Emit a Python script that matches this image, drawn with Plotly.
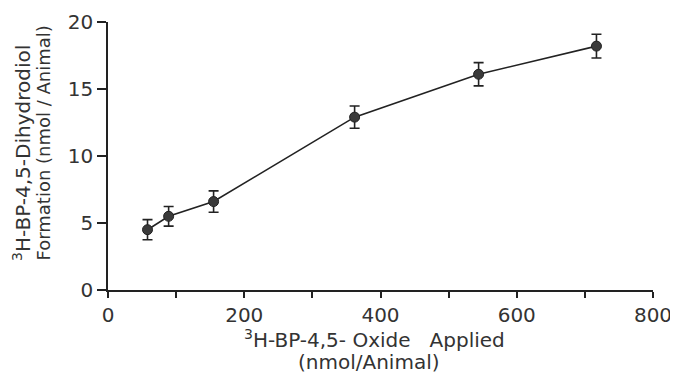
import plotly.graph_objects as go

dose = [58, 89, 155, 362, 544, 717]
dihydrodiol = [4.5, 5.5, 6.6, 12.9, 16.1, 18.2]
err = [0.75, 0.73, 0.8, 0.83, 0.87, 0.89]

x_ticks = [0, 200, 400, 600, 800]
y_ticks = [0, 5, 10, 15, 20]

x_title_1 = "<sup>3</sup>H-BP-4,5- Oxide   Applied"
x_title_2 = "(nmol/Animal)"
y_title_1 = "<sup>3</sup>H-BP-4,5-Dihydrodiol"
y_title_2 = "Formation (nmol / Animal)"

fig = go.Figure()
fig.add_trace(go.Scatter(
    x=dose, y=dihydrodiol, mode="lines+markers",
    line=dict(color="#222", width=1.6),
    marker=dict(size=10, color="#3a3a3a", line=dict(color="#222", width=1)),
    error_y=dict(type="data", array=err, visible=True, color="#222", thickness=1.6, width=5),
    showlegend=False,
))

font = "DejaVu Sans, sans-serif"
OFF = 8  # page body margin
W, H = 678 - OFF, 377 - OFF
L, T = 108 - OFF, 22 - OFF
R = W - (653 - OFF)
B = H - (290 - OFF)
pw, ph = W - L - R, H - T - B


def px_x(sx):
    return (sx - OFF - L) / pw


def px_y(sy):
    return (H - B - (sy - OFF)) / ph


fig.update_layout(
    width=W, height=H,
    margin=dict(l=L, r=R, t=T, b=B),
    paper_bgcolor="white", plot_bgcolor="white",
    font=dict(family=font, color="#222"),
    xaxis=dict(
        range=[0, 800], tickvals=x_ticks, ticks="outside", ticklen=6, tickwidth=1.5,
        tickcolor="#222", automargin=False,
        showline=True, linecolor="#222", linewidth=1.5, showgrid=False, zeroline=False,
        tickfont=dict(size=20, color="#333"),
        minor=dict(dtick=100, ticks="outside", ticklen=6, tickwidth=1.5, tickcolor="#222", showgrid=False),
    ),
    yaxis=dict(
        range=[0, 20], tickvals=y_ticks, ticks="outside", ticklen=9, tickwidth=1.5,
        tickcolor="#222", automargin=False,
        showline=True, linecolor="#222", linewidth=1.5, showgrid=False, zeroline=False,
        tickfont=dict(size=20, color="#333"),
    ),
)

xt_font = dict(family=font, size=20, color="#333")
fig.add_annotation(text=x_title_1, xref="paper", yref="paper", x=px_x(374), y=px_y(339),
                   xanchor="center", yanchor="middle", showarrow=False, font=xt_font)
fig.add_annotation(text=x_title_2, xref="paper", yref="paper", x=px_x(369), y=px_y(362),
                   xanchor="center", yanchor="middle", showarrow=False, font=xt_font)
fig.add_annotation(text=y_title_1, xref="paper", yref="paper", x=px_x(22), y=px_y(263),
                   xanchor="center", yanchor="bottom", textangle=-90, showarrow=False,
                   font=dict(family=font, size=20, color="#333"))
fig.add_annotation(text=y_title_2, xref="paper", yref="paper", x=px_x(43), y=px_y(263),
                   xanchor="center", yanchor="bottom", textangle=-90, showarrow=False,
                   font=dict(family=font, size=18, color="#333"))

fig.write_html("out.html")
